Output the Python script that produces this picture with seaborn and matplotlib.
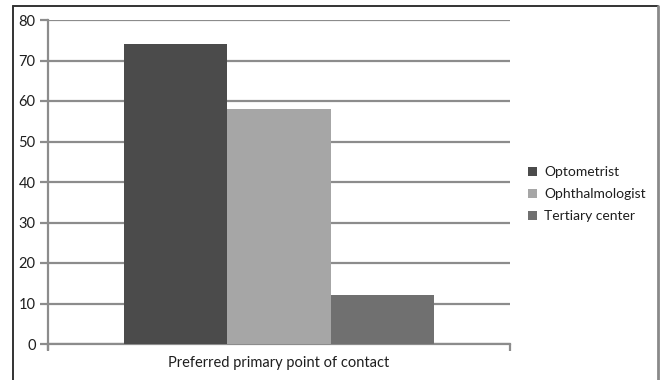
import matplotlib
matplotlib.use("Agg")
import matplotlib.pyplot as plt
from matplotlib.patches import Patch
from matplotlib.lines import Line2D
import seaborn as sns
import pandas as pd

category = ["Preferred primary point of contact"]
providers = ["Optometrist", "Ophthalmologist", "Tertiary center"]
values = [74, 58, 12]
colors = ["#4b4b4b", "#a6a6a6", "#707070"]
yticks = [0, 10, 20, 30, 40, 50, 60, 70, 80]

df = pd.DataFrame({
    "group": category * len(providers),
    "provider": providers,
    "value": values,
})

sns.set_style("white")
plt.rcParams["font.family"] = ["Lato", "DejaVu Sans"]

W, H = 661, 380
fig = plt.figure(figsize=(W / 100, H / 100), dpi=100)
ax = fig.add_axes([48 / W, 1 - 344 / H, (510 - 48) / W, (344 - 20) / H])

sns.barplot(data=df, x="group", y="value", hue="provider",
            hue_order=providers, palette=colors, width=0.67, gap=0,
            saturation=1, edgecolor="none", linewidth=0, ax=ax,
            legend=False, zorder=3)

ax.set_xlim(-0.5, 0.5)
ax.set_ylim(0, 80)
ax.set_yticks(yticks)
ax.yaxis.grid(True, color="#8c8c8c", linewidth=1.6)
ax.set_axisbelow(True)
ax.set_xlabel("")
ax.set_ylabel("")

for side in ["top", "right"]:
    ax.spines[side].set_visible(False)
for side in ["left", "bottom"]:
    ax.spines[side].set_color("#8c8c8c")
    ax.spines[side].set_linewidth(1.6)
ax.spines["left"].set_bounds(-1.2, 80)

ax.tick_params(axis="y", which="major", direction="out", length=6,
               width=1.6, color="#8c8c8c", labelsize=10.5,
               labelcolor="#1e1e1e", pad=3, left=True)
ax.tick_params(axis="x", which="major", length=0, labelsize=10.5,
               labelcolor="#1e1e1e", pad=9)
ax.set_xticks([-0.5, 0.5], minor=True)
ax.tick_params(axis="x", which="minor", direction="out", length=5,
               width=1.6, color="#8c8c8c", bottom=True)

handles = [Patch(facecolor=c, edgecolor="none") for c in colors]
leg = fig.legend(handles, providers, loc="upper left",
                 bbox_to_anchor=(515 / W, 1 - 154 / H), frameon=False,
                 fontsize=10, handlelength=0.65, handleheight=0.65,
                 handletextpad=0.55, labelspacing=0.72)
for t in leg.get_texts():
    t.set_color("#1e1e1e")

# frame lines around the chart area (open at the bottom)
fig.add_artist(Line2D([13 / W, 13 / W], [0, 1 - 6 / H], color="#333333",
                      linewidth=1.4, transform=fig.transFigure))
fig.add_artist(Line2D([13 / W, 658 / W], [1 - 6 / H, 1 - 6 / H],
                      color="#333333", linewidth=1.4,
                      transform=fig.transFigure))
fig.add_artist(Line2D([658 / W, 658 / W], [0, 1 - 6 / H], color="#8a8a8a",
                      linewidth=2, transform=fig.transFigure))

fig.savefig("out.png", dpi=100)
